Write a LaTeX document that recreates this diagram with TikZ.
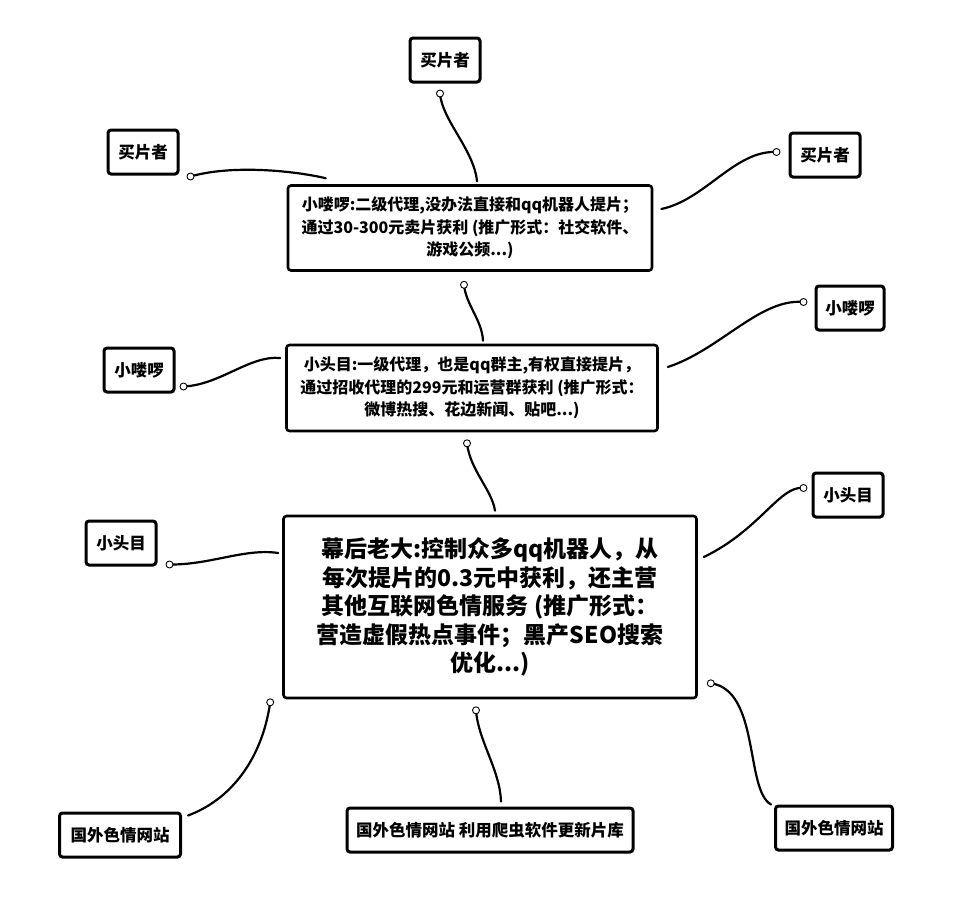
\documentclass[tikz,border=0pt]{standalone}
\usepackage{fontspec}
\setmainfont{Noto Sans CJK SC}
\usetikzlibrary{calc}
\tikzset{
  bigbox/.style={draw=black, line width=2.6pt, rounded corners=3pt, fill=white, inner sep=0pt, align=center, font=\bfseries\fontsize{16}{22.5}\selectfont},
  smallbox/.style={draw=black, line width=3pt, rounded corners=3pt, fill=white, inner sep=0pt, align=center, minimum height=44pt, font=\bfseries\fontsize{16.5}{18}\selectfont},
  link/.style={draw=black, line width=2.2pt, line cap=round},
  endring/.style={draw=black, line width=0.9pt, fill=white}
}
\begin{document}
\begin{tikzpicture}[x=1pt,y=-1pt]
\useasboundingbox (0,0) rectangle (964,905);
% main boxes
\node[bigbox, minimum width=364pt, minimum height=85pt] (b1) at (470,228) {小喽啰:二级代理,没办法直接和qq机器人提片；\\通过30-300元卖片获利 (推广形式：社交软件、\\游戏公频...)};
\node[bigbox, minimum width=371pt, minimum height=86pt] (b2) at (472,388) {小头目:一级代理，也是qq群主,有权直接提片，\\通过招收代理的299元和运营群获利 (推广形式：\\微博热搜、花边新闻、贴吧...)};
\node[bigbox, minimum width=413pt, minimum height=182pt, font=\bfseries\fontsize{23}{28.5}\selectfont] (b3) at (490,607) {幕后老大:控制众多qq机器人，从\\每次提片的0.3元中获利，还主营\\其他互联网色情服务 (推广形式：\\营造虚假热点事件；黑产SEO搜索\\优化...)};
% small boxes
\node[smallbox, minimum width=70pt] (t1) at (445,60) {买片者};
\node[smallbox, minimum width=70pt] (l1) at (143,152) {买片者};
\node[smallbox, minimum width=70pt] (r1) at (825,155) {买片者};
\node[smallbox, minimum width=68pt] (r2) at (850,308) {小喽啰};
\node[smallbox, minimum width=70pt] (l2) at (139,370) {小喽啰};
\node[smallbox, minimum width=70pt] (r3) at (848,495) {小头目};
\node[smallbox, minimum width=70pt] (l3) at (121,543) {小头目};
\node[smallbox, minimum width=121pt] (bl) at (120,835) {国外色情网站};
\node[smallbox, minimum width=286pt] (bm) at (490,830) {国外色情网站 利用爬虫软件更新片库};
\node[smallbox, minimum width=117pt] (br) at (834,828) {国外色情网站};
% connector end points
\coordinate (c1) at ([shift={(-5,10)}]t1.south);
\coordinate (e1) at ([shift={(7,-3)}]b1.north);
\coordinate (c2) at ([shift={(11,1)}]l1.south east);
\coordinate (e2) at ([shift={(39,-6)}]b1.north west);
\coordinate (c3) at ([shift={(-12,-3)}]r1.west);
\coordinate (e3) at ([shift={(8,-19)}]b1.east);
\coordinate (c4) at ([shift={(-6,13)}]b1.south);
\coordinate (e4) at ([shift={(11,-3)}]b2.north);
\coordinate (c5) at ([shift={(-11,-6)}]r2.west);
\coordinate (e5) at ([shift={(9,-21)}]b2.east);
\coordinate (c6) at ([shift={(8,-7)}]l2.south east);
\coordinate (e6) at ([shift={(-5,-30)}]b2.west);
\coordinate (c7) at ([shift={(-5,11)}]b2.south);
\coordinate (e7) at ([shift={(5,-4)}]b3.north);
\coordinate (c8) at ([shift={(-8,-7)}]r3.west);
\coordinate (e8) at ([shift={(6,-50)}]b3.east);
\coordinate (c9) at ([shift={(12,-2)}]l3.south east);
\coordinate (e9) at ([shift={(-4,-54)}]b3.west);
\coordinate (c10) at ([shift={(-12,3)}]b3.south west);
\coordinate (e10) at ([shift={(6,4)}]bl.north east);
\coordinate (c11) at ([shift={(-14,11)}]b3.south);
\coordinate (e11) at ([shift={(11,-5)}]bm.north);
\coordinate (c12) at ([shift={(13,-16)}]b3.south east);
\coordinate (e12) at ([shift={(-3,0)}]br.north west);
% connectors
\draw[link] (e1) .. controls (474,150) and (442,120) .. (c1);
\draw[link] (e2) .. controls (290,170) and (230,165) .. (c2);
\draw[link] (e3) .. controls (705,200) and (735,150) .. (c3);
\draw[link] (e4) .. controls (482,320) and (466,305) .. (c4);
\draw[link] (e5) .. controls (720,350) and (760,298) .. (c5);
\draw[link] (e6) .. controls (250,355) and (220,385) .. (c6);
\draw[link] (e7) .. controls (492,490) and (470,470) .. (c7);
\draw[link] (e8) .. controls (760,530) and (780,485) .. (c8);
\draw[link] (e9) .. controls (245,548) and (210,565) .. (c9);
\draw[link] (e10) .. controls (230,800) and (262,760) .. (c10);
\draw[link] (e11) .. controls (500,770) and (478,740) .. (c11);
\draw[link] (e12) .. controls (745,790) and (760,690) .. (c12);
% end rings
\foreach \c in {c1,c2,c3,c4,c5,c6,c7,c8,c9,c10,c11,c12}
  \draw[endring] (\c) circle (3.5pt);
\end{tikzpicture}
\end{document}
